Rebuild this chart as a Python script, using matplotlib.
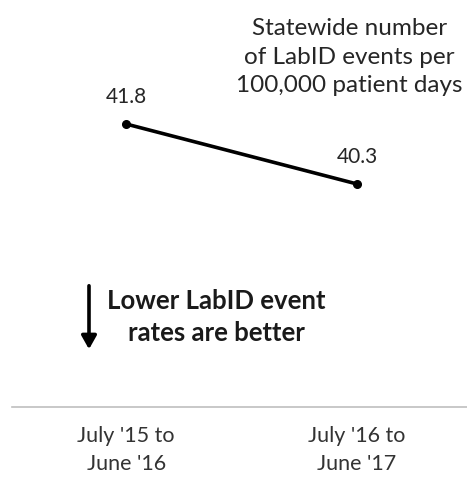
import numpy as np
import matplotlib.pyplot as plt
from matplotlib.patches import FancyArrowPatch

periods = ["July '15 to\nJune '16", "July '16 to\nJune '17"]
rates = [41.8, 40.3]
rate_labels = ["41.8", "40.3"]

plt.rcParams['font.family'] = ['Lato', 'DejaVu Sans']

fig = plt.figure(figsize=(4.67, 4.78), dpi=100)
ax = fig.add_axes([12 / 467, 71 / 478, 1 - 12 / 467, 407 / 478])

x = np.arange(len(rates))
ax.plot(x, rates, color='black', linewidth=2.6, marker='o', markersize=5.5, zorder=3)

for xi, yi, lab in zip(x, rates, rate_labels):
    ax.annotate(lab, (xi, yi), xytext=(0, 19.5), textcoords='offset points',
                ha='center', va='center', fontsize=15, color='#262626')

ax.set_xlim(-0.494, 1.476)
ax.set_ylim(34.725, 44.9)

for s in ['top', 'right', 'left']:
    ax.spines[s].set_visible(False)
ax.spines['bottom'].set_color('#bfbfbf')
ax.spines['bottom'].set_linewidth(1.2)
ax.set_yticks([])
ax.set_xticks(x)
ax.set_xticklabels(periods, fontsize=15.5, color='#333333', linespacing=1.45)
ax.tick_params(axis='x', length=0, pad=14)

# title block, pushed against the right edge
fig.text(463 / 467, 1 - 57 / 478, 'Statewide number\nof LabID events per\n100,000 patient days',
         ha='right', va='center', multialignment='center', fontsize=17.5,
         color='#262626', linespacing=1.43)

fig.text(216 / 467, 1 - 317 / 478, 'Lower LabID event\nrates are better',
         ha='center', va='center', fontsize=18.5, fontweight='bold', color='#1a1a1a',
         linespacing=1.4)
fig.patches.append(FancyArrowPatch(
    (89 / 467, 1 - 283 / 478), (89 / 467, 1 - 352 / 478), transform=fig.transFigure,
    arrowstyle='-|>,head_length=8,head_width=4.5', color='black', linewidth=2.6))

fig.savefig('out.png', dpi=100)
